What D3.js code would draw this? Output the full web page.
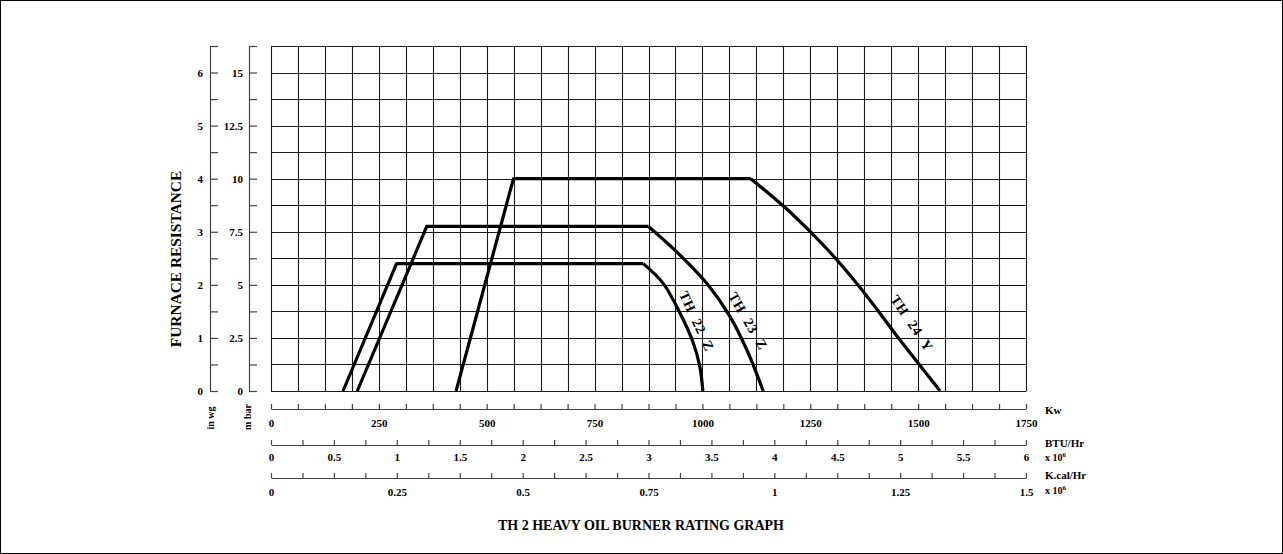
<!DOCTYPE html>
<html>
<head>
<meta charset="utf-8">
<script src="https://cdn.jsdelivr.net/npm/d3@7"></script>
<style>
  body { margin: 0; background: #fff; }
  text { font-family: "Liberation Serif", "Times New Roman", serif; font-weight: bold; fill: #000; }
</style>
</head>
<body>
<div id="chart"></div>
<script>
var svgWidth = 1283
var svgHeight = 554

// tick labels
var kwLabels = [0, 250, 500, 750, 1000, 1250, 1500, 1750]
var btuLabels = [0, 0.5, 1, 1.5, 2, 2.5, 3, 3.5, 4, 4.5, 5, 5.5, 6]
var kcalLabels = [0, 0.25, 0.5, 0.75, 1, 1.25, 1.5]
var inwgLabels = [0, 1, 2, 3, 4, 5, 6]
var mbarLabels = [0, 2.5, 5, 7.5, 10, 12.5, 15]

// burner curves (Kw vs mbar)
var th22Kw = [167, 291, 863, 909, 948, 979, 994, 1001]
var th22Mbar = [0, 6, 6, 5.07, 3.67, 2.25, 1.15, 0]
var th23Kw = [200, 361, 875, 940, 1010, 1064, 1103, 1141]
var th23Mbar = [0, 7.75, 7.75, 6.56, 5.07, 3.5, 1.93, 0]
var th24Kw = [429, 562, 1112, 1203, 1291, 1370, 1458, 1551]
var th24Mbar = [0, 10, 10, 8.43, 6.64, 4.76, 2.4, 0]

var curveNames = ["TH 22 Z", "TH 23 Z", "TH 24 Y"]
var labelKw = [987, 1106, 1486]
var labelMbar = [3.3, 3.3, 3.2]
var labelAngle = [65, 60, 56]

// plot area
var plot = {left: 271, right: 1026, top: 46, bottom: 391}

var svg = d3.select("#chart")
    .append("svg")
    .attr("width", svgWidth)
    .attr("height", svgHeight)

svg.append("rect")
    .attr("x", 0.5).attr("y", 0.5)
    .attr("width", svgWidth - 1).attr("height", svgHeight - 1)
    .attr("fill", "none").attr("stroke", "#000")

var xScale = d3.scaleLinear().domain([0, 1750]).range([plot.left, plot.right])
var yScale = d3.scaleLinear().domain([0, 16.25]).range([plot.bottom, plot.top])
var yIn = d3.scaleLinear().domain([0, 6.5]).range([plot.bottom, plot.top])
var xBtu = d3.scaleLinear().domain([0, 6]).range([plot.left, plot.right])
var xKcal = d3.scaleLinear().domain([0, 1.5]).range([plot.left, plot.right])

// grid
var grid = svg.append("g").attr("stroke", "#1a1a1a").attr("stroke-width", 1.1)
d3.range(0, 1750.1, 62.5).forEach(function(v) {
    var x = Math.round(xScale(v)) + 0.5
    grid.append("line").attr("x1", x).attr("x2", x).attr("y1", plot.top).attr("y2", plot.bottom)
})
d3.range(0, 16.26, 1.25).forEach(function(v) {
    var y = Math.round(yScale(v)) + 0.5
    grid.append("line").attr("x1", plot.left).attr("x2", plot.right + 0.5).attr("y1", y).attr("y2", y)
})

function fmt(list) {
    return function(d) {
        var hit = list.find(function(v) { return Math.abs(v - d) < 1e-6 })
        return hit === undefined ? "" : String(hit)
    }
}

function styleAxis(g, size) {
    g.selectAll("path").attr("stroke", "#444").attr("stroke-width", 1.2)
    g.selectAll("line").attr("stroke", "#444").attr("stroke-width", 1.2)
    g.selectAll("text").style("font-size", size + "px").attr("fill", "#000")
}

// left axes
var inAxis = svg.append("g")
    .attr("transform", "translate(210,0)")
    .call(d3.axisLeft(yIn).tickValues(d3.range(0, 6.51, 0.5)).tickSize(-8).tickSizeOuter(0).tickPadding(7).tickFormat(fmt(inwgLabels)))
styleAxis(inAxis, 11)

var mbarAxis = svg.append("g")
    .attr("transform", "translate(249,0)")
    .call(d3.axisLeft(yScale).tickValues(d3.range(0, 16.26, 1.25)).tickSize(-8).tickSizeOuter(0).tickPadding(6).tickFormat(fmt(mbarLabels)))
styleAxis(mbarAxis, 11)

// bottom axes
var kwAxis = svg.append("g")
    .attr("transform", "translate(0,409)")
    .call(d3.axisBottom(xScale).tickValues(d3.range(0, 1750.1, 62.5)).tickSize(-5).tickSizeOuter(0).tickPadding(10).tickFormat(fmt(kwLabels)))
styleAxis(kwAxis, 11)

var btuAxis = svg.append("g")
    .attr("transform", "translate(0,445)")
    .call(d3.axisBottom(xBtu).tickValues(d3.range(0, 6.01, 0.25)).tickSize(-5).tickSizeOuter(0).tickPadding(8).tickFormat(fmt(btuLabels)))
styleAxis(btuAxis, 11)

var kcalAxis = svg.append("g")
    .attr("transform", "translate(0,478)")
    .call(d3.axisBottom(xKcal).tickValues(d3.range(0, 1.501, 0.0625)).tickSize(-5).tickSizeOuter(0).tickPadding(10).tickFormat(fmt(kcalLabels)))
styleAxis(kcalAxis, 11)

// unit labels
svg.append("text").attr("transform", "translate(1045,414)").style("font-size", "11px").text("Kw")
svg.append("text").attr("transform", "translate(1045,447)").style("font-size", "11px").text("BTU/Hr")
var b6 = svg.append("text").attr("transform", "translate(1045,461)").style("font-size", "10px").text("x 10")
b6.append("tspan").attr("dy", -4).style("font-size", "7px").text("6")
svg.append("text").attr("transform", "translate(1045,479)").style("font-size", "11px").text("K.cal/Hr")
var k6 = svg.append("text").attr("transform", "translate(1045,494)").style("font-size", "10px").text("x 10")
k6.append("tspan").attr("dy", -4).style("font-size", "7px").text("6")

svg.append("text").attr("transform", "translate(213.5,418) rotate(-90)")
    .attr("text-anchor", "middle").style("font-size", "10px").text("in wg")
svg.append("text").attr("transform", "translate(250.5,417) rotate(-90)")
    .attr("text-anchor", "middle").style("font-size", "10px").text("m bar")

// axis title
svg.append("text")
    .attr("transform", "translate(180.5,259) rotate(-90)")
    .attr("text-anchor", "middle")
    .style("font-size", "15.4px")
    .text("FURNACE RESISTANCE")

svg.append("text")
    .attr("x", 641).attr("y", 530)
    .attr("text-anchor", "middle")
    .style("font-size", "14px")
    .text("TH 2 HEAVY OIL BURNER RATING GRAPH")

// curves: straight rise and flat top, then a rounded fall-off
var lineStraight = d3.line().x(d => xScale(d[0])).y(d => yScale(d[1]))
var lineRound = d3.line().x(d => xScale(d[0])).y(d => yScale(d[1])).curve(d3.curveCatmullRom)

var series = [[th22Kw, th22Mbar], [th23Kw, th23Mbar], [th24Kw, th24Mbar]]
series.forEach(function(s) {
    var pts = s[0].map((k, i) => [k, s[1][i]])
    svg.append("path").attr("d", lineStraight(pts.slice(0, 3)))
        .attr("fill", "none").attr("stroke", "#000").attr("stroke-width", 3.2).attr("stroke-linejoin", "round")
    svg.append("path").attr("d", lineRound(pts.slice(2)))
        .attr("fill", "none").attr("stroke", "#000").attr("stroke-width", 3.2).attr("stroke-linejoin", "round")
})

// curve labels
curveNames.forEach(function(name, i) {
    svg.append("text")
        .attr("transform", `translate(${xScale(labelKw[i])},${yScale(labelMbar[i])}) rotate(${labelAngle[i]})`)
        .attr("text-anchor", "middle")
        .attr("dy", "0.35em")
        .style("font-size", "14px")
        .style("word-spacing", "5px")
        .style("letter-spacing", "0.5px")
        .text(name)
})
</script>
</body>
</html>
